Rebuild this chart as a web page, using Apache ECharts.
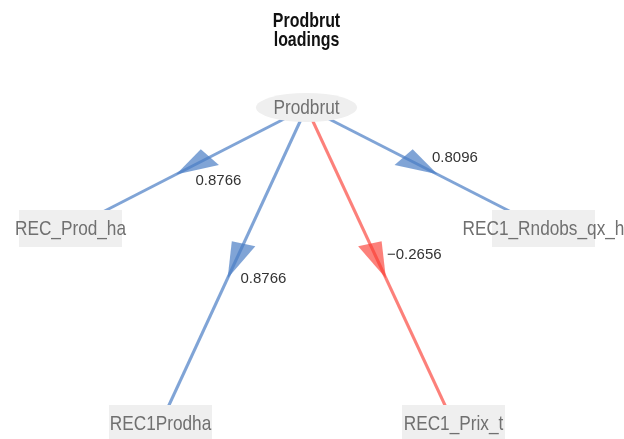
<!DOCTYPE html>
<html>
<head>
<meta charset="utf-8">
<script src="https://cdn.jsdelivr.net/npm/echarts@6/dist/echarts.min.js"></script>
<style>
  html, body { margin: 0; padding: 0; background: #fff; }
  #main { width: 624px; height: 439px; }
</style>
</head>
<body>
<div id="main"></div>
<script>
// diagram nodes (layout in page units, axes map them 1:1)
var nodeNames = ["Prodbrut", "REC_Prod_ha", "REC1_Rndobs_qx_h", "REC1Prodha", "REC1_Prix_t"];
var nodeX = [306.5, 70.5, 543.5, 160.5, 453.5];
var nodeY = [107.5, 228.5, 228.5, 423.5, 423.5];

// loadings edges
var edgeSource = [0, 0, 0, 0];
var edgeTarget = [1, 3, 4, 2];
var loadings = [0.8766, 0.8766, -0.2656, 0.8096];

var titleText = "Prodbrut\nloadings";

var FONT = "'Liberation Sans', Arial, sans-serif";
var POS_COLOR = "rgba(74,126,196,0.7)";
var NEG_COLOR = "rgba(250,60,50,0.65)";
var ARROW_LEN = 38, ARROW_HW = 12, ARROW_SHIFT = 5, SKEW = 1.5;
var NARROW_SCALE = 0.82; // node labels in the original are a condensed face

function edgeColor(v) {
  return v < 0 ? NEG_COLOR : POS_COLOR;
}
function fmt(v) {
  return String(v).replace("-", "\u2212");
}

var nodes = nodeNames.map(function (n, i) {
  var isRoot = i === 0;
  return {
    name: n,
    value: [nodeX[i], nodeY[i]],
    symbol: isRoot ? "path://M0,50 A50,50 0 1,1 100,50 A50,50 0 1,1 0,50 Z" : "rect",
    symbolSize: isRoot ? [101, 29] : [103, 37]
  };
});

var links = loadings.map(function (v, i) {
  return {
    source: nodeNames[edgeSource[i]],
    target: nodeNames[edgeTarget[i]],
    lineStyle: { color: edgeColor(v) }
  };
});

function renderArrow(params, api) {
  var i = api.value(0);
  var p0 = api.coord([nodeX[edgeSource[i]], nodeY[edgeSource[i]]]);
  var p1 = api.coord([nodeX[edgeTarget[i]], nodeY[edgeTarget[i]]]);
  var dx = p1[0] - p0[0], dy = p1[1] - p0[1];
  var len = Math.sqrt(dx * dx + dy * dy);
  var ux = dx / len, uy = dy / len;
  var midX = (p0[0] + p1[0]) / 2, midY = (p0[1] + p1[1]) / 2;
  var cx = midX - ux * ARROW_SHIFT, cy = midY - uy * ARROW_SHIFT;
  var tip = [cx + ux * ARROW_LEN / 2, cy + uy * ARROW_LEN / 2];
  var bx = cx - ux * ARROW_LEN / 2, by = cy - uy * ARROW_LEN / 2;
  var px = -uy * SKEW, py = ux / SKEW;
  var pl = Math.sqrt(px * px + py * py);
  px = px / pl * ARROW_HW; py = py / pl * ARROW_HW;
  var v = loadings[i];
  return {
    type: "group",
    children: [
      {
        type: "polygon",
        shape: { points: [tip, [bx + px, by + py], [bx - px, by - py]] },
        style: { fill: edgeColor(v) }
      },
      {
        type: "text",
        x: midX + 7,
        y: midY + (dx < 0 ? 13 : -10.5),
        style: {
          text: fmt(v),
          fill: "#333",
          font: "15px " + FONT,
          textAlign: "left",
          textVerticalAlign: "middle"
        }
      }
    ]
  };
}

function renderNodeLabel(params, api) {
  var i = api.value(0);
  var p = api.coord([nodeX[i], nodeY[i]]);
  return {
    type: "text",
    x: p[0],
    y: p[1] + 0.5,
    scaleX: NARROW_SCALE,
    style: {
      text: nodeNames[i],
      fill: "#707070",
      font: "21px " + FONT,
      textAlign: "center",
      textVerticalAlign: "middle"
    }
  };
}

var chart = echarts.init(document.getElementById("main"));
var option = {
  animation: false,
  backgroundColor: "#fff",
  grid: { left: 0, right: 0, top: 0, bottom: 0 },
  xAxis: { type: "value", min: 0, max: 624, show: false },
  yAxis: { type: "value", min: 0, max: 439, inverse: true, show: false },
  graphic: [
    {
      type: "text",
      x: 306.5,
      y: 12,
      scaleX: 0.76,
      style: {
        text: titleText,
        fill: "#111",
        font: "bold 21px " + FONT,
        lineHeight: 19,
        textAlign: "center",
        textVerticalAlign: "top"
      }
    }
  ],
  series: [
    {
      type: "graph",
      coordinateSystem: "cartesian2d",
      silent: true,
      z: 2,
      data: nodes,
      links: links,
      itemStyle: { color: "#efefef" },
      label: { show: false },
      lineStyle: { width: 3, opacity: 1, curveness: 0 },
      edgeSymbol: ["none", "none"]
    },
    {
      type: "custom",
      coordinateSystem: "cartesian2d",
      silent: true,
      z: 3,
      renderItem: renderArrow,
      data: loadings.map(function (v, i) { return [i, 0]; })
    },
    {
      type: "custom",
      coordinateSystem: "cartesian2d",
      silent: true,
      z: 10,
      renderItem: renderNodeLabel,
      data: nodeNames.map(function (n, i) { return [i, 0]; })
    }
  ]
};
chart.setOption(option);
</script>
</body>
</html>
